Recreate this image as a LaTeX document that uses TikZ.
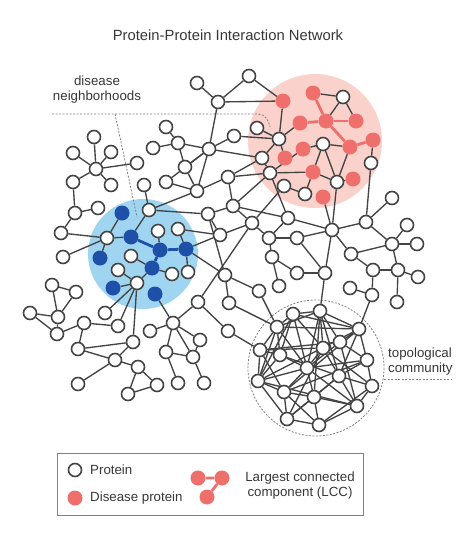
\documentclass[tikz,border=0pt]{standalone}
\usepackage{fontspec}
\setmainfont{Liberation Sans}
\definecolor{linkgray}{RGB}{68,68,68}
\definecolor{textgray}{RGB}{55,55,55}
\definecolor{lccred}{RGB}{239,111,108}
\definecolor{lccpink}{RGB}{250,210,203}
\definecolor{nbhblue}{RGB}{30,80,168}
\definecolor{nbhsky}{RGB}{160,213,241}
\pgfdeclarelayer{back}
\pgfsetlayers{back,main}

\begin{document}
\begin{tikzpicture}[x=1pt, y=-1pt,
    prot/.style={circle, draw=linkgray, line width=1.6pt, fill=white, minimum size=13pt, inner sep=0pt},
    dis/.style={circle, fill=lccred, minimum size=15pt, inner sep=0pt},
    nbh/.style={circle, fill=nbhblue, minimum size=15pt, inner sep=0pt},
    link/.style={draw=linkgray, line width=1.35pt},
    lcclink/.style={draw=lccred, line width=2.8pt},
    nbhlink/.style={draw=nbhblue, line width=2.8pt},
    note/.style={draw=gray, line width=0.8pt, dash pattern=on 2pt off 1.5pt},
    lbl/.style={font=\fontsize{13.3}{15}\selectfont, text=textgray, inner sep=0pt}]
  \useasboundingbox (0,0) rectangle (460,536);
  % Title
  \node[font=\fontsize{14.8}{17}\selectfont, text=textgray] (title) at (228,35) {Protein-Protein Interaction Network};
  % Proteins
  \foreach \n/\x/\y in {t1/197/83, t2/249/76, t3/218/102,
      a1/94/137, a2/73/153, a3/111/152, a4/96/169, a5/137/163, a6/73/182, a7/111/185, a8/144/185,
      b1/75/213, b2/98/208, b3/61/233, b4/107/238, b5/63/257,
      m1/166/127, m2/178/143, m3/153/148, m4/209/149, m5/185/167, m6/234/136, m7/257/128,
      m8/279/139, m9/262/158, m10/166/182, m11/228/177, m12/197/191, m13/270/173, m14/284/186,
      m15/233/206, m16/208/214, m17/305/194, m18/220/235, m19/252/223, m20/288/218, m21/269/238,
      m22/297/238, m23/272/257,
      w1/343/97, w2/323/144, w3/337/182, w4/371/163,
      c1/149/210, c2/158/231, c3/178/229, c4/131/256, c5/118/270, c6/172/274, c7/188/272, c8/137/283,
      e1/52/285, e2/76/292, e3/30/313, e4/58/317, e5/57/334, e6/84/323, e7/105/313, e8/118/326,
      e9/133/342, e10/78/349, e11/115/360, e12/138/367, e13/78/384, e14/128/394, e15/157/385,
      d1/225/275, d2/279/286, d3/259/291, d4/198/302, d5/229/303, d6/173/323, d7/228/331,
      e16/150/331, e17/200/340, e18/166/352, e19/193/357, e20/178/383, e21/204/383,
      g1/332/230, g2/366/222, g3/392/198, g4/407/225, g5/392/244, g6/417/244, g7/351/254,
      g8/373/270, g9/398/270, g10/418/277, g11/397/302, g12/372/295, g13/350/288, g14/297/273, g15/325/273,
      k1/293/314, k2/320/311, k3/277/327, k4/359/329, k5/340/342, k6/323/348, k7/260/350, k8/280/355,
      k9/367/360, k10/307/368, k11/339/376, k12/258/381, k13/372/386, k14/284/392, k15/314/397,
      k16/357/406, k17/287/419, k18/319/425}
    \node[prot] (\n) at (\x,\y) {};
  % Disease proteins
  \foreach \n/\x/\y in {r1/283/101, r2/313/93, r3/300/123, r4/326/121, r5/356/121, r6/373/140,
      r7/350/147, r8/285/158, r9/303/149, r10/313/172, r11/353/179, r12/323/197}
    \node[dis] (\n) at (\x,\y) {};
  \foreach \n/\x/\y in {u1/122/213, u2/131/237, u3/160/250, u4/186/249, u5/100/258, u6/152/268,
      u7/113/288, u8/155/294}
    \node[nbh] (\n) at (\x,\y) {};
  % Annotations
  \coordinate (hoodL) at (52,114);
  \coordinate (hoodR) at (258,114);
  \coordinate (hoodE) at (270,127);
  \coordinate (hoodK) at (115,114);
  \coordinate (hoodB) at (137,217);
  \coordinate (commL) at (384,379);
  \coordinate (commR) at (452,379);
  \node[lbl, align=center] (hoodtxt) at (97,90) {disease\\neighborhoods};
  \node[lbl, align=left, anchor=west] (commtxt) at (388,362) {topological\\community};
  \begin{pgfonlayer}{back}
    \fill[lccpink] (315,141) circle (67);
    \fill[nbhsky] (143,254) circle (55);
    \draw[note] (316,368) circle (68);
    \draw[note] (hoodL) -- (hoodR) to[out=0, in=100] (hoodE);
    \draw[note] (hoodK) -- (hoodB);
    \draw[note] (commL) -- (commR);
    % Interactions
    \foreach \a/\b in {t1/t3, t2/t3, t2/r1, t3/r1, t3/m4,
        a4/a1, a4/a2, a4/a3, a4/a5, a4/a6, a4/a7, a6/b1, b1/b2, b1/b3, b3/b4, b4/b5,
        b4/u1, b4/u2, b4/u5, a8/c1,
        m1/m2, m3/m2, m2/m4, m2/m5, m5/m4, m4/m6, m4/m9, m4/m12, m4/m10, m6/m8, m7/m8,
        m8/r1, m8/r3, m8/r8, m8/m9, m9/m11, m9/m13, m11/m12, m11/m13, m11/m15, m10/m12,
        m5/m12, m12/c1, c1/m16, c1/u2, m13/m15, m15/m16, m15/m19, m15/m20, m16/m18,
        m18/m19, m18/c3, m19/m21, m19/m14, m21/m23, m13/r10, m14/m17, m17/r10,
        m20/m13, m20/g1, m20/m21, m22/g1, m22/g15, m22/m21, m23/g14, m23/d2, g14/g15,
        r2/w1, w1/r4, w1/r5, w2/r7, w2/w3, w2/r10, w2/r9, r9/m13, r10/w3, w3/r11, w3/g1,
        w3/r7, r12/g1, w4/r6, w4/g2,
        g1/g2, g2/g3, g2/g5, g5/g4, g5/g6, g5/g7, g5/g9, g7/g8, g7/g1, g8/g9, g9/g10,
        g9/g11, g8/g12, g12/g13, g12/k4, g1/g15, g15/k2,
        c2/u3, c3/u4, u4/m18, u4/d1, u6/c6, u6/c4, u4/c7, c8/c5, c8/u7, c8/u6, c8/e7,
        c8/e8, c8/e9, u8/d6,
        m16/d1, m19/d4, d1/d3, d1/d5, d4/d6, d4/d7, d6/e16, d6/e17, d6/e18, d6/e19,
        e17/e19, e18/e19, e18/e20, e19/e21, d7/k7, d3/k3, d5/k3,
        e1/e2, e1/e4, e2/e4, e3/e4, e3/e5, e4/e5, e5/e6, e6/e8, e6/e10, e10/e9, e10/e11,
        e9/e11, e11/e12, e11/e13, e12/e14, e12/e15, e14/e15}
      \draw[link] (\a) -- (\b);
    % Topological community
    \foreach \a/\b in {k1/k2, k1/k3, k1/k6, k1/k10, k1/k4, k1/k8, k1/k12,
        k2/k4, k2/k5, k2/k6, k2/k10, k2/k3, k2/k11, k2/k15,
        k3/k7, k3/k8, k3/k10, k3/k4, k3/k12,
        k4/k5, k4/k9, k4/k11, k4/k12, k4/k14,
        k5/k9, k5/k10, k5/k7, k5/k16,
        k6/k7, k6/k10, k6/k11, k6/k17, k6/k13,
        k7/k8, k7/k12, k7/k14, k8/k10, k8/k12, k8/k11,
        k9/k11, k9/k13, k9/k10, k9/k14,
        k10/k12, k10/k14, k10/k15, k10/k16,
        k11/k13, k11/k15, k11/k16, k11/k17, k12/k14, k12/k17, k12/k16,
        k13/k16, k13/k18, k14/k15, k14/k17, k14/k18, k15/k18, k15/k17, k15/k16,
        k16/k18, k17/k18}
      \draw[link] (\a) -- (\b);
    % Largest connected components
    \foreach \a/\b in {r2/r4, r3/r4, r4/r5, r4/r7, r7/r6}
      \draw[lcclink] (\a) -- (\b);
    \foreach \a/\b in {u2/u3, u3/u4, u3/u6}
      \draw[nbhlink] (\a) -- (\b);
  \end{pgfonlayer}
  % Legend
  \draw[gray, line width=1pt] (57,453) rectangle (363,515);
  \node[prot] (keyprot) at (75,470) {};
  \node[lbl, anchor=west] (keyprottxt) at (90,470) {Protein};
  \node[dis] (keydis) at (75,498) {};
  \node[lbl, anchor=west] (keydistxt) at (90,498) {Disease protein};
  \node[dis] (keyA) at (198,478) {};
  \node[dis] (keyB) at (222,478) {};
  \node[dis] (keyC) at (207,497) {};
  \begin{pgfonlayer}{back}
    \draw[lcclink] (keyA) -- (keyB) -- (keyC);
  \end{pgfonlayer}
  \node[lbl, align=center] (keylcc) at (300,486) {Largest connected\\component (LCC)};
\end{tikzpicture}
\end{document}
